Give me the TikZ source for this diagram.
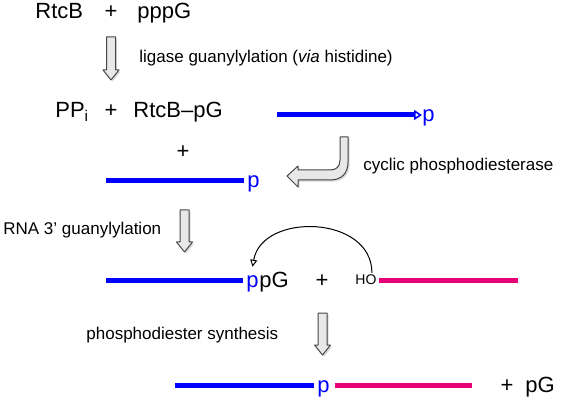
\documentclass[tikz,border=0pt]{standalone}
\usepackage{fontspec}
\setmainfont{Liberation Sans}
\usetikzlibrary{arrows.meta,shadows}
\definecolor{rnablue}{RGB}{0,0,255}
\definecolor{rnapink}{RGB}{232,0,118}
\newcommand\downblock[4]{\path[blockarrow] (#1-4.5,#2) -- (#1+4.5,#2) -- (#1+4.5,#3) -- (#1+8,#3) -- (#1,#4) -- (#1-8,#3) -- (#1-4.5,#3) -- cycle;}

\begin{document}
\begin{tikzpicture}[x=0.5pt,y=-0.5pt,
        big/.style={font=\fontsize{11}{13}\selectfont,inner sep=0pt,anchor=base west},
        small/.style={font=\fontsize{8.5}{10}\selectfont,inner sep=0pt,anchor=west},
        bluestrand/.style={draw=rnablue,line width=2.5pt},
        pinkstrand/.style={draw=rnapink,line width=2.5pt},
        blockarrow/.style={fill=gray!18,draw=gray!55!black,line width=0.5pt,line join=round,
            drop shadow={shadow xshift=0.8pt,shadow yshift=-0.8pt,opacity=0.3}}]
\useasboundingbox (0,0) rectangle (566,400);

\node[big] (rtcb) at (35,19) {RtcB};
\node[big,anchor=base] (plusa) at (111,19) {+};
\node[big] (pppg) at (137,19) {pppG};
\downblock{111}{37}{70}{80}
\node[small] (lig) at (139,58) {ligase guanylylation (\textit{via} histidine)};

\node[big] (ppi) at (55,118) {PP\textsubscript{i}};
\node[big,anchor=base] (plusb) at (111,118) {+};
\node[big] (rtcbpg) at (133,118) {RtcB--pG};
\coordinate (s1) at (277,115);
\node[big,text=rnablue] (p1) at (422,122) {p};
\draw[bluestrand,-{Triangle[open,length=4pt,width=5pt,line width=0.8pt]}] (s1) -- (s1 -| p1.west);

\path[blockarrow] (340,137) -- (348,137) -- (348,162) .. controls (348,173) and (342,180) .. (330,180) -- (298,180) -- (298,187) -- (287,176) -- (298,166) -- (298,170) -- (330,170) .. controls (336,170) and (340,167) .. (340,160) -- cycle;
\node[small] (cpd) at (363,166) {cyclic phosphodiesterase};

\node[big,anchor=base] (plusc) at (183,159) {+};
\coordinate (s2) at (106,181);
\node[big,text=rnablue] (p2) at (247,188) {p};
\draw[bluestrand,shorten >=1.5pt] (s2) -- (s2 -| p2.west);

\downblock{184.5}{210}{242}{252}
\node[small] (gua) at (3,230) {RNA 3' guanylylation};

\coordinate (s3) at (106,280);
\node[big,text=rnablue] (p3) at (246,287) {p};
\node[big] (pg3) at (p3.base east) {pG};
\draw[bluestrand,shorten >=1.5pt] (s3) -- (s3 -| p3.west);
\node[big,anchor=base] (plusd) at (322,287) {+};
\node[font=\fontsize{7}{8}\selectfont,inner sep=0pt,anchor=base west] (ho) at (355,285) {HO};
\coordinate (e3) at (518,280);
\draw[pinkstrand,shorten <=1pt] (e3 -| ho.east) -- (e3);
\draw[line width=0.5pt,-{Triangle[open,length=3.5pt,width=3.5pt]}] ([xshift=3pt,yshift=1pt]ho.north) .. controls (372,215) and (262,212) .. ([yshift=4pt]p3.north);

\node[small] (pds) at (86,335) {phosphodiester synthesis};
\downblock{322.5}{313}{345}{355}

\coordinate (s4) at (175,385);
\node[big,text=rnablue] (p4) at (317,392) {p};
\draw[bluestrand,shorten >=1.5pt] (s4) -- (s4 -| p4.west);
\coordinate (e4) at (472,385);
\draw[pinkstrand] (335,385) -- (e4);
\node[big,anchor=base] (pluse) at (507,392) {+};
\node[big] (pg4) at (525,392) {pG};
\end{tikzpicture}
\end{document}
